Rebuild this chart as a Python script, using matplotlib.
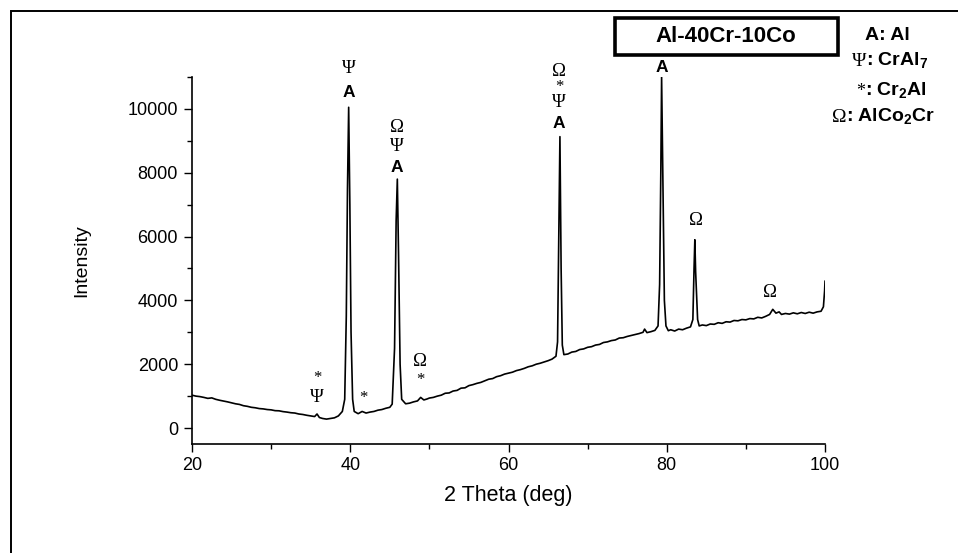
import matplotlib
matplotlib.use("Agg")
import matplotlib.pyplot as plt
from matplotlib.patches import Rectangle
from matplotlib.ticker import MultipleLocator

plt.rcParams["mathtext.fontset"] = "custom"
plt.rcParams["mathtext.bf"] = "Liberation Sans:bold"
plt.rcParams["mathtext.rm"] = "Liberation Sans"

# ---- data (2theta in deg, intensity in counts) ----
two_theta = [
    20.0, 20.5, 21.0, 21.5, 22.0, 22.5, 23.0, 23.5, 24.0, 24.5, 25.0, 25.5, 26.0, 26.5,
    27.0, 27.5, 28.0, 28.5, 29.0, 29.5, 30.0, 30.5, 31.0, 31.5, 32.0, 32.5, 33.0, 33.5,
    34.0, 34.5, 35.0, 35.5, 35.8, 36.1, 36.5, 37.0, 37.5, 38.0, 38.5, 39.0, 39.3, 39.5,
    39.65, 39.8, 39.95, 40.1, 40.3, 40.5, 41.0, 41.5, 42.0, 42.5, 43.0, 43.5, 44.0, 44.5,
    45.0, 45.3, 45.6, 45.8, 45.95, 46.1, 46.3, 46.5, 47.0, 47.5, 48.0, 48.5, 48.9, 49.3,
    49.7, 50.0, 50.5, 51.0, 51.5, 52.0, 52.5, 53.0, 53.5, 54.0, 54.5, 55.0, 55.5, 56.0,
    56.5, 57.0, 57.5, 58.0, 58.5, 59.0, 59.5, 60.0, 60.5, 61.0, 61.5, 62.0, 62.5, 63.0,
    63.5, 64.0, 64.5, 65.0, 65.5, 66.0, 66.2, 66.35, 66.5, 66.65, 66.8, 67.0, 67.5, 68.0,
    68.5, 69.0, 69.5, 70.0, 70.5, 71.0, 71.5, 72.0, 72.5, 73.0, 73.5, 74.0, 74.5, 75.0,
    75.5, 76.0, 76.5, 77.0, 77.2, 77.5, 78.0, 78.5, 78.9, 79.1, 79.25, 79.35, 79.45, 79.55,
    79.7, 79.9, 80.2, 80.5, 81.0, 81.5, 82.0, 82.5, 83.0, 83.3, 83.45, 83.55, 83.65, 83.75,
    83.9, 84.1, 84.5, 85.0, 85.5, 86.0, 86.5, 87.0, 87.5, 88.0, 88.5, 89.0, 89.5, 90.0,
    90.5, 91.0, 91.5, 92.0, 92.5, 93.0, 93.4, 93.8, 94.2, 94.5, 95.0, 95.5, 96.0, 96.5,
    97.0, 97.5, 98.0, 98.5, 99.0, 99.5, 99.8, 99.95, 100.0,
]
intensity = [
    1030, 1000, 985, 960, 930, 945, 900, 870, 845, 820, 790, 760, 740, 700,
    680, 650, 635, 610, 600, 580, 570, 545, 540, 515, 500, 480, 470, 440,
    425, 400, 380, 360, 440, 330, 300, 280, 300, 320, 380, 520, 900, 3500,
    7500, 10050, 7000, 3000, 900, 520, 450, 520, 470, 500, 520, 560, 580, 620,
    650, 750, 2500, 6500, 7800, 5500, 2000, 900, 760, 780, 820, 850, 960, 880,
    910, 940, 960, 1000, 1030, 1090, 1100, 1160, 1180, 1250, 1260, 1330, 1360, 1400,
    1430, 1480, 1530, 1550, 1610, 1640, 1690, 1720, 1750, 1800, 1830, 1870, 1920, 1950,
    2000, 2030, 2070, 2110, 2160, 2250, 2700, 6000, 9130, 5000, 2600, 2300, 2320, 2380,
    2400, 2460, 2480, 2530, 2550, 2600, 2620, 2680, 2700, 2740, 2760, 2820, 2830, 2870,
    2900, 2930, 2960, 3000, 3100, 2990, 3020, 3060, 3200, 4500, 8000, 11000, 9000, 7200,
    4000, 3200, 3050, 3080, 3040, 3100, 3080, 3130, 3170, 3400, 5000, 5900, 4900, 4300,
    3400, 3200, 3230, 3210, 3260, 3250, 3300, 3280, 3330, 3320, 3370, 3360, 3400, 3390,
    3430, 3420, 3470, 3450, 3500, 3560, 3720, 3600, 3640, 3560, 3590, 3570, 3610, 3580,
    3620, 3590, 3630, 3600, 3640, 3660, 3800, 4300, 4600,
]

# peak labels: (x, y, text, kind)  kind 'sym' = serif symbol, 'A' = bold sans
peak_labels = [
    (39.8, 11260, "Ψ", "sym"), (39.8, 10520, "A", "A"),
    (45.9, 9420, "Ω", "sym"), (45.9, 8820, "Ψ", "sym"), (45.9, 8160, "A", "A"),
    (66.4, 11170, "Ω", "sym"), (66.4, 10700, "*", "sym"), (66.4, 10200, "Ψ", "sym"),
    (66.4, 9550, "A", "A"),
    (79.4, 11300, "A", "A"),
    (83.7, 6510, "Ω", "sym"),
    (93.0, 4250, "Ω", "sym"),
    (35.8, 1580, "*", "sym"), (35.8, 960, "Ψ", "sym"),
    (41.6, 930, "*", "sym"),
    (48.8, 2080, "Ω", "sym"), (48.8, 1490, "*", "sym"),
]

legend_syms = ["A", "Ψ", "*", "Ω"]
legend_names = [": Al", r": CrAl$_\mathbf{7}$", r": Cr$_\mathbf{2}$Al", r": AlCo$_\mathbf{2}$Cr"]
sample_name = "Al-40Cr-10Co"

x_ticks = [20, 40, 60, 80, 100]
y_ticks = [0, 2000, 4000, 6000, 8000, 10000]

SANS = ["Liberation Sans", "DejaVu Sans"]
SERIF = ["Liberation Serif", "DejaVu Serif"]

W, H = 958, 553
fig = plt.figure(figsize=(W / 100, H / 100), dpi=100)
fig.patch.set_facecolor("white")

# outer frame
fig.patches.append(Rectangle((11 / W, -0.2), 1.2, (H - 11) / H + 0.2,
                             transform=fig.transFigure, fill=False,
                             edgecolor="black", linewidth=1.4))

ax = fig.add_axes([192 / W, (H - 444) / H, (825 - 192) / W, (444 - 77) / H])
ax.plot(two_theta, intensity, color="black", linewidth=1.2)
ax.set_xlim(20, 100)
ax.set_ylim(-500, 11000)
ax.set_xticks(x_ticks)
ax.set_yticks(y_ticks)
ax.xaxis.set_minor_locator(MultipleLocator(10))
ax.yaxis.set_minor_locator(MultipleLocator(1000))
for s in ["top", "right"]:
    ax.spines[s].set_visible(False)
for s in ["left", "bottom"]:
    ax.spines[s].set_linewidth(1.2)
ax.tick_params(which="major", direction="out", length=6, width=1.0, labelsize=13)
ax.tick_params(axis="y", which="major", pad=4)
ax.tick_params(which="minor", direction="out", length=3.5, width=1.0)
for lab in ax.get_xticklabels() + ax.get_yticklabels():
    lab.set_family(SANS)
ax.set_xlabel("2 Theta (deg)", fontsize=15.5, family=SANS, labelpad=8)
ax.set_ylabel("Intensity", fontsize=14, family=SANS, labelpad=27)

for x, y, t, kind in peak_labels:
    if kind == "A":
        ax.text(x, y, t, ha="center", va="center", fontsize=12.5,
                fontweight="bold", family=SANS, clip_on=False)
    elif t == "*":
        ax.text(x, y, t, ha="center", va="center", fontsize=12,
                family=SERIF, clip_on=False)
    else:
        ax.text(x, y, t, ha="center", va="center", fontsize=13.5,
                family=SERIF, clip_on=False)

# sample name box
fig.patches.append(Rectangle((615 / W, (H - 55) / H), (838 - 615) / W, 37 / H,
                             transform=fig.transFigure, fill=False,
                             edgecolor="black", linewidth=2.6))
fig.text(726 / W, (H - 37) / H, sample_name, ha="center", va="center",
         fontsize=16, fontweight="bold", family=SANS)

# legend of phases
leg_x = [865, 852, 856, 832]
leg_y = [35, 61, 91, 117]
for sym, name, lx, ly in zip(legend_syms, legend_names, leg_x, leg_y):
    if sym == "A":
        fig.text(lx / W, (H - ly) / H, sym + name, ha="left", va="center",
                 fontsize=14, fontweight="bold", family=SANS)
    else:
        fig.text(lx / W, (H - ly) / H, sym, ha="left", va="center",
                 fontsize=14 if sym != "*" else 13, family=SERIF)
        off = 14 if sym != "*" else 9
        fig.text((lx + off) / W, (H - ly) / H, name, ha="left", va="center",
                 fontsize=14, fontweight="bold", family=SANS)

fig.savefig("out.png", dpi=100, facecolor="white")
